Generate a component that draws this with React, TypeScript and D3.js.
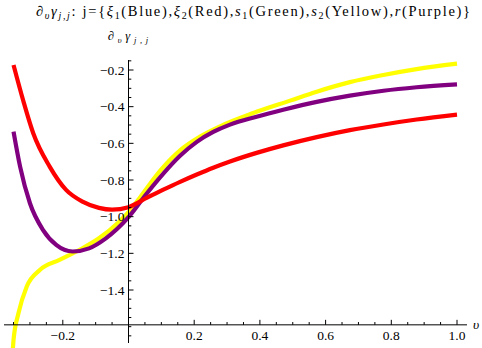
import React from "react";
import * as d3 from "d3";

const redX = [-0.35, -0.32, -0.29, -0.24, -0.19, -0.14, -0.09, -0.05, 0, 0.055, 0.106, 0.157, 0.208, 0.258, 0.309, 0.39, 0.471, 0.573, 0.674, 0.776, 0.877, 1.0];
const redY = [-0.173, -0.37, -0.545, -0.727, -0.854, -0.918, -0.952, -0.962, -0.948, -0.898, -0.853, -0.81, -0.77, -0.733, -0.699, -0.652, -0.611, -0.566, -0.528, -0.497, -0.47, -0.443];

const purpleX = [-0.35, -0.33, -0.30, -0.26, -0.22, -0.17, -0.12, -0.07, 0, 0.055, 0.106, 0.157, 0.208, 0.258, 0.309, 0.39, 0.471, 0.573, 0.674, 0.776, 0.877, 1.0];
const purpleY = [-0.536, -0.727, -0.927, -1.073, -1.154, -1.19, -1.173, -1.12, -1.003, -0.875, -0.765, -0.668, -0.592, -0.538, -0.498, -0.455, -0.417, -0.374, -0.34, -0.313, -0.294, -0.278];

const yellowX = [-0.352, -0.35, -0.335, -0.31, -0.27, -0.21, -0.15, -0.09, -0.03, 0, 0.035, 0.096, 0.157, 0.218, 0.279, 0.38, 0.492, 0.573, 0.674, 0.776, 0.877, 1.0];
const yellowY = [-1.72, -1.673, -1.527, -1.382, -1.291, -1.236, -1.182, -1.118, -1.03, -0.975, -0.895, -0.75, -0.638, -0.563, -0.507, -0.435, -0.367, -0.318, -0.266, -0.227, -0.195, -0.165];

const xMajor = [-0.2, 0.2, 0.4, 0.6, 0.8, 1.0];
const xMajorLabels = ["\u22120.2", "0.2", "0.4", "0.6", "0.8", "1.0"];
const yMajor = [-0.2, -0.4, -0.6, -0.8, -1.0, -1.2, -1.4];
const yMajorLabels = ["\u22120.2", "\u22120.4", "\u22120.6", "\u22120.8", "\u22121.0", "\u22121.2", "\u22121.4"];

const series = [
  { xs: yellowX, ys: yellowY, color: "#ffff00" },
  { xs: purpleX, ys: purpleY, color: "#800080" },
  { xs: redX, ys: redY, color: "#ff0000" },
];

export default function App() {
  const W = 482, H = 348;
  const x = d3.scaleLinear().domain([0, 1]).range([128.5, 457]);
  const y = d3.scaleLinear().domain([-0.2, -1.4]).range([70, 290]);
  const axisYVal = -1.59;
  const axisPy = y(axisYVal);
  const line = d3.line<[number, number]>().x(d => x(d[0])).y(d => y(d[1])).curve(d3.curveMonotoneX);

  const xMinor = d3.range(-0.35, 1.0001, 0.05).map(v => Math.round(v * 100) / 100);
  const yMinor = d3.range(-0.15, -1.66, -0.05).map(v => Math.round(v * 100) / 100);
  const isMajor = (v: number, arr: number[]) => arr.some(a => Math.abs(a - v) < 1e-6);

  const font = "Liberation Serif, Times New Roman, Times, serif";

  return (
    <svg width={W} height={H} style={{ position: "absolute", left: 0, top: 0, background: "#fff", fontFamily: font }}>
      <rect width={W} height={H} fill="#fff" />
      <text x={36} y={16} fontSize={14.5} fill="#000" textLength={434} lengthAdjust="spacing" style={{ fontFamily: font }}>
        <tspan fontStyle="italic">∂</tspan>
        <tspan fontStyle="italic" fontSize={10} dy={3}>υ</tspan>
        <tspan fontStyle="italic" dy={-3}>γ</tspan>
        <tspan fontStyle="italic" fontSize={10} dy={3}>j,j</tspan>
        <tspan dy={-3}>: j={"{"}</tspan>
        <tspan fontStyle="italic">ξ</tspan>
        <tspan fontSize={10} dy={3}>1</tspan>
        <tspan dy={-3}>(Blue),</tspan>
        <tspan fontStyle="italic">ξ</tspan>
        <tspan fontSize={10} dy={3}>2</tspan>
        <tspan dy={-3}>(Red),</tspan>
        <tspan fontStyle="italic">s</tspan>
        <tspan fontSize={10} dy={3}>1</tspan>
        <tspan dy={-3}>(Green),</tspan>
        <tspan fontStyle="italic">s</tspan>
        <tspan fontSize={10} dy={3}>2</tspan>
        <tspan dy={-3}>(Yellow),</tspan>
        <tspan fontStyle="italic">r</tspan>
        <tspan>(Purple){"}"}</tspan>
      </text>
      <text x={108} y={40} fontSize={12.5} fill="#000" textLength={40} lengthAdjust="spacing" style={{ fontFamily: font }}>
        <tspan fontStyle="italic">∂</tspan>
        <tspan fontStyle="italic" fontSize={8.5} dy={3}>υ</tspan>
        <tspan fontStyle="italic" dy={-3}>γ</tspan>
        <tspan fontStyle="italic" fontSize={8.5} dy={3}>j,j</tspan>
      </text>

      <defs>
        <clipPath id="plotclip">
          <rect x={0} y={50} width={W} height={H - 50} />
        </clipPath>
      </defs>
      <g clipPath="url(#plotclip)">
        {series.map((s, i) => (
          <path key={i} d={line(s.xs.map((v, j) => [v, s.ys[j]]) as [number, number][]) || ""} fill="none" stroke={s.color} strokeWidth={4.2} strokeLinecap="butt" strokeLinejoin="round" />
        ))}
      </g>

      <line x1={4} x2={467} y1={axisPy} y2={axisPy} stroke="#000" strokeWidth={1} />
      {xMinor.map((v, i) => {
        const maj = isMajor(v, xMajor);
        return <line key={i} x1={x(v)} x2={x(v)} y1={axisPy} y2={axisPy - (maj ? 5 : 2.8)} stroke="#000" strokeWidth={1} />;
      })}
      {xMajor.map((v, i) => (
        <text key={i} x={x(v)} y={axisPy + 15} fontSize={13.5} textAnchor="middle" fill="#000" style={{ fontFamily: font }}>{xMajorLabels[i]}</text>
      ))}
      <text x={473} y={axisPy + 4} fontSize={13.5} fontStyle="italic" fill="#000" style={{ fontFamily: font }}>υ</text>

      <line x1={x(0)} x2={x(0)} y1={60} y2={343} stroke="#000" strokeWidth={1} />
      {yMinor.map((v, i) => {
        const maj = isMajor(v, yMajor);
        return <line key={i} x1={x(0)} x2={x(0) + (maj ? 5 : 2.8)} y1={y(v)} y2={y(v)} stroke="#000" strokeWidth={1} />;
      })}
      {yMajor.map((v, i) => (
        <text key={i} x={x(0) - 4} y={y(v) + 4.5} fontSize={13.5} textAnchor="end" fill="#000" style={{ fontFamily: font }}>{yMajorLabels[i]}</text>
      ))}
    </svg>
  );
}
